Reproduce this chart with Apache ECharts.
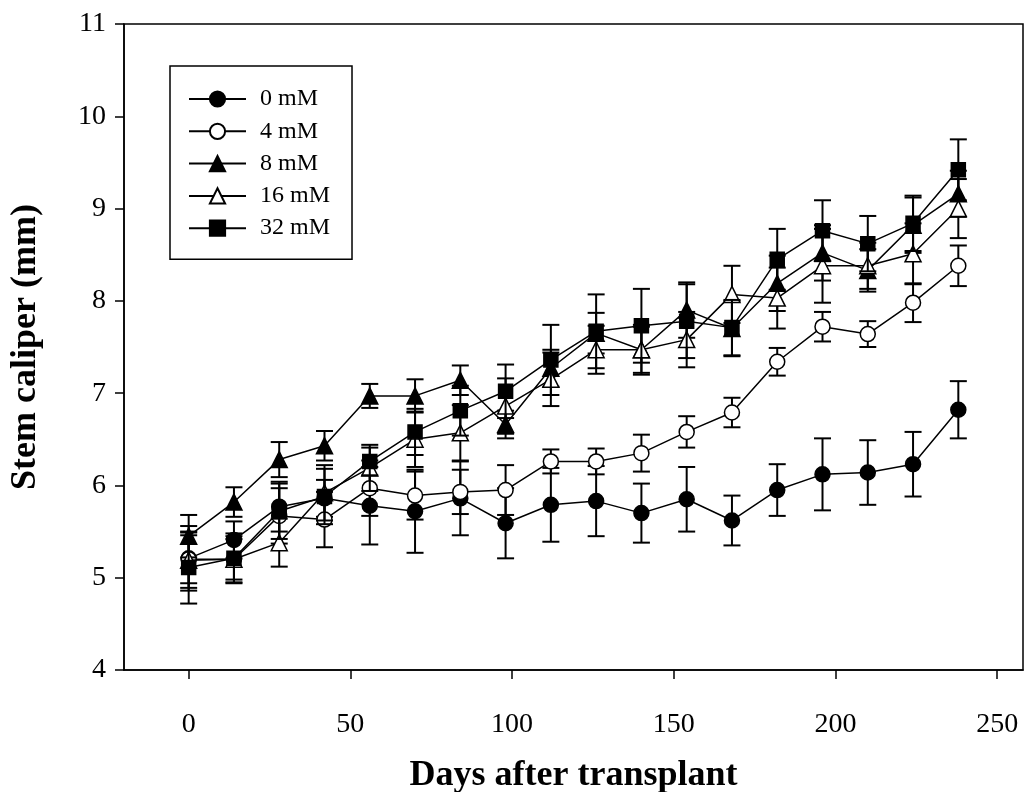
<!DOCTYPE html>
<html>
<head>
<meta charset="utf-8">
<script src="https://cdn.jsdelivr.net/npm/echarts@6/dist/echarts.min.js"></script>
<style>
  html, body { margin: 0; padding: 0; background: #fff; }
  #chart { width: 1026px; height: 792px; }
</style>
</head>
<body>
<div id="chart"></div>
<script>
// ---- data ----
const days = [0, 14, 28, 42, 56, 70, 84, 98, 112, 126, 140, 154, 168, 182, 196, 210, 224, 238];
const seriesNames = ['0 mM', '4 mM', '8 mM', '16 mM', '32 mM'];

const mM0  = [5.21, 5.41, 5.77, 5.86, 5.78, 5.72, 5.86, 5.59, 5.79, 5.83, 5.70, 5.85, 5.62, 5.95, 6.12, 6.14, 6.23, 6.82];
const mM0e = [0.35, 0.20, 0.27, 0.20, 0.42, 0.45, 0.40, 0.38, 0.40, 0.38, 0.32, 0.35, 0.27, 0.28, 0.39, 0.35, 0.35, 0.31];

const mM4  = [5.20, 5.20, 5.67, 5.63, 5.97, 5.89, 5.93, 5.95, 6.26, 6.26, 6.35, 6.58, 6.79, 7.34, 7.72, 7.64, 7.98, 8.38];
const mM4e = [0.26, 0.22, 0.30, 0.30, 0.30, 0.26, 0.24, 0.27, 0.13, 0.14, 0.20, 0.17, 0.16, 0.15, 0.16, 0.14, 0.21, 0.22];

const mM8  = [5.45, 5.82, 6.28, 6.43, 6.97, 6.97, 7.14, 6.66, 7.27, 7.65, 7.47, 7.90, 7.70, 8.19, 8.52, 8.33, 8.82, 9.16];
const mM8e = [0.23, 0.16, 0.19, 0.16, 0.13, 0.18, 0.16, 0.15, 0.20, 0.22, 0.25, 0.30, 0.30, 0.30, 0.30, 0.23, 0.30, 0.25];

const mM16  = [5.19, 5.20, 5.38, 5.92, 6.19, 6.50, 6.57, 6.86, 7.15, 7.47, 7.47, 7.58, 8.07, 8.03, 8.38, 8.38, 8.51, 9.00];
const mM16e = [0.30, 0.25, 0.26, 0.30, 0.25, 0.30, 0.30, 0.30, 0.29, 0.26, 0.27, 0.30, 0.31, 0.33, 0.40, 0.25, 0.33, 0.32];

const mM32  = [5.11, 5.21, 5.72, 5.88, 6.26, 6.58, 6.81, 7.02, 7.36, 7.67, 7.73, 7.78, 7.71, 8.45, 8.76, 8.62, 8.84, 9.42];
const mM32e = [0.39, 0.27, 0.30, 0.30, 0.15, 0.25, 0.27, 0.29, 0.38, 0.40, 0.40, 0.40, 0.30, 0.33, 0.33, 0.30, 0.30, 0.33];

const xTicks = [0, 50, 100, 150, 200, 250];
const yTicks = [4, 5, 6, 7, 8, 9, 10, 11];

// ---- styles ----
const FONT = 'Liberation Serif';
const styles = [
  { symbol: 'circle',   size: 15, fill: '#000' },
  { symbol: 'circle',   size: 15, fill: '#fff' },
  { symbol: 'triangle', size: 16, fill: '#000' },
  { symbol: 'triangle', size: 16, fill: '#fff' },
  { symbol: 'rect',     size: 14, fill: '#000' }
];
const allVals = [mM0, mM4, mM8, mM16, mM32];
const allErrs = [mM0e, mM4e, mM8e, mM16e, mM32e];

function errRender(params, api) {
  const x = api.value(0), v = api.value(1), e = api.value(2);
  const top = api.coord([x, v + e]);
  const bot = api.coord([x, v - e]);
  const hw = 8.5;
  const st = { stroke: '#000', lineWidth: 2 };
  return {
    type: 'group',
    children: [
      { type: 'line', shape: { x1: top[0], y1: top[1], x2: bot[0], y2: bot[1] }, style: st },
      { type: 'line', shape: { x1: top[0] - hw, y1: top[1], x2: top[0] + hw, y2: top[1] }, style: st },
      { type: 'line', shape: { x1: bot[0] - hw, y1: bot[1], x2: bot[0] + hw, y2: bot[1] }, style: st }
    ]
  };
}

const series = [];
seriesNames.forEach((name, i) => {
  series.push({
    name: name + ' err',
    type: 'custom',
    renderItem: errRender,
    encode: { x: 0, y: 1 },
    data: days.map((d, k) => [d, allVals[i][k], allErrs[i][k]]),
    z: 2 + i * 2,
    silent: true
  });
  series.push({
    name: name,
    type: 'line',
    data: days.map((d, k) => [d, allVals[i][k]]),
    symbol: styles[i].symbol,
    symbolSize: styles[i].size,
    showAllSymbol: true,
    lineStyle: { color: '#000', width: 1.5 },
    itemStyle: { color: styles[i].fill, borderColor: '#000', borderWidth: 1.5 },
    emphasis: { disabled: true },
    animation: false,
    z: 3 + i * 2
  });
});

const chart = echarts.init(document.getElementById('chart'), null, { renderer: 'canvas' });
chart.setOption({
  animation: false,
  backgroundColor: '#fff',
  grid: {
    left: 124, right: 3, top: 24, bottom: 122,
    containLabel: false,
    outerBoundsMode: 'none',
    show: true, borderColor: '#000', borderWidth: 1.5, backgroundColor: 'transparent'
  },
  legend: {
    data: seriesNames,
    orient: 'vertical',
    left: 170, top: 66,
    padding: [21, 22, 19, 18],
    itemWidth: 57, itemHeight: 19, itemGap: 8.3,
    borderColor: '#000', borderWidth: 1.5,
    textStyle: { fontFamily: FONT, fontSize: 24, color: '#000', padding: [0, 0, 0, 9] },
    selectedMode: false
  },
  xAxis: {
    type: 'value',
    min: -20, max: 258,
    name: 'Days after transplant',
    nameLocation: 'middle',
    nameGap: 88,
    nameTextStyle: { fontFamily: FONT, fontSize: 36, fontWeight: 'bold', color: '#000' },
    axisLine: { show: true, onZero: false, lineStyle: { color: '#000', width: 1.5 } },
    axisTick: { show: true, length: 9, inside: false, customValues: xTicks, lineStyle: { color: '#000', width: 1.5 } },
    axisLabel: { customValues: xTicks, margin: 41, fontFamily: FONT, fontSize: 28, color: '#000' },
    splitLine: { show: false }
  },
  yAxis: {
    type: 'value',
    min: 4, max: 11, interval: 1,
    name: 'Stem caliper (mm)',
    nameLocation: 'middle',
    nameGap: 80,
    nameTextStyle: { fontFamily: FONT, fontSize: 36, fontWeight: 'bold', color: '#000' },
    axisLine: { show: true, onZero: false, lineStyle: { color: '#000', width: 1.5 } },
    axisTick: { show: true, length: 9, inside: false, customValues: yTicks, lineStyle: { color: '#000', width: 1.5 } },
    axisLabel: { customValues: yTicks, margin: 18, fontFamily: FONT, fontSize: 28, color: '#000' },
    splitLine: { show: false }
  },
  series: series
});
</script>
</body>
</html>
